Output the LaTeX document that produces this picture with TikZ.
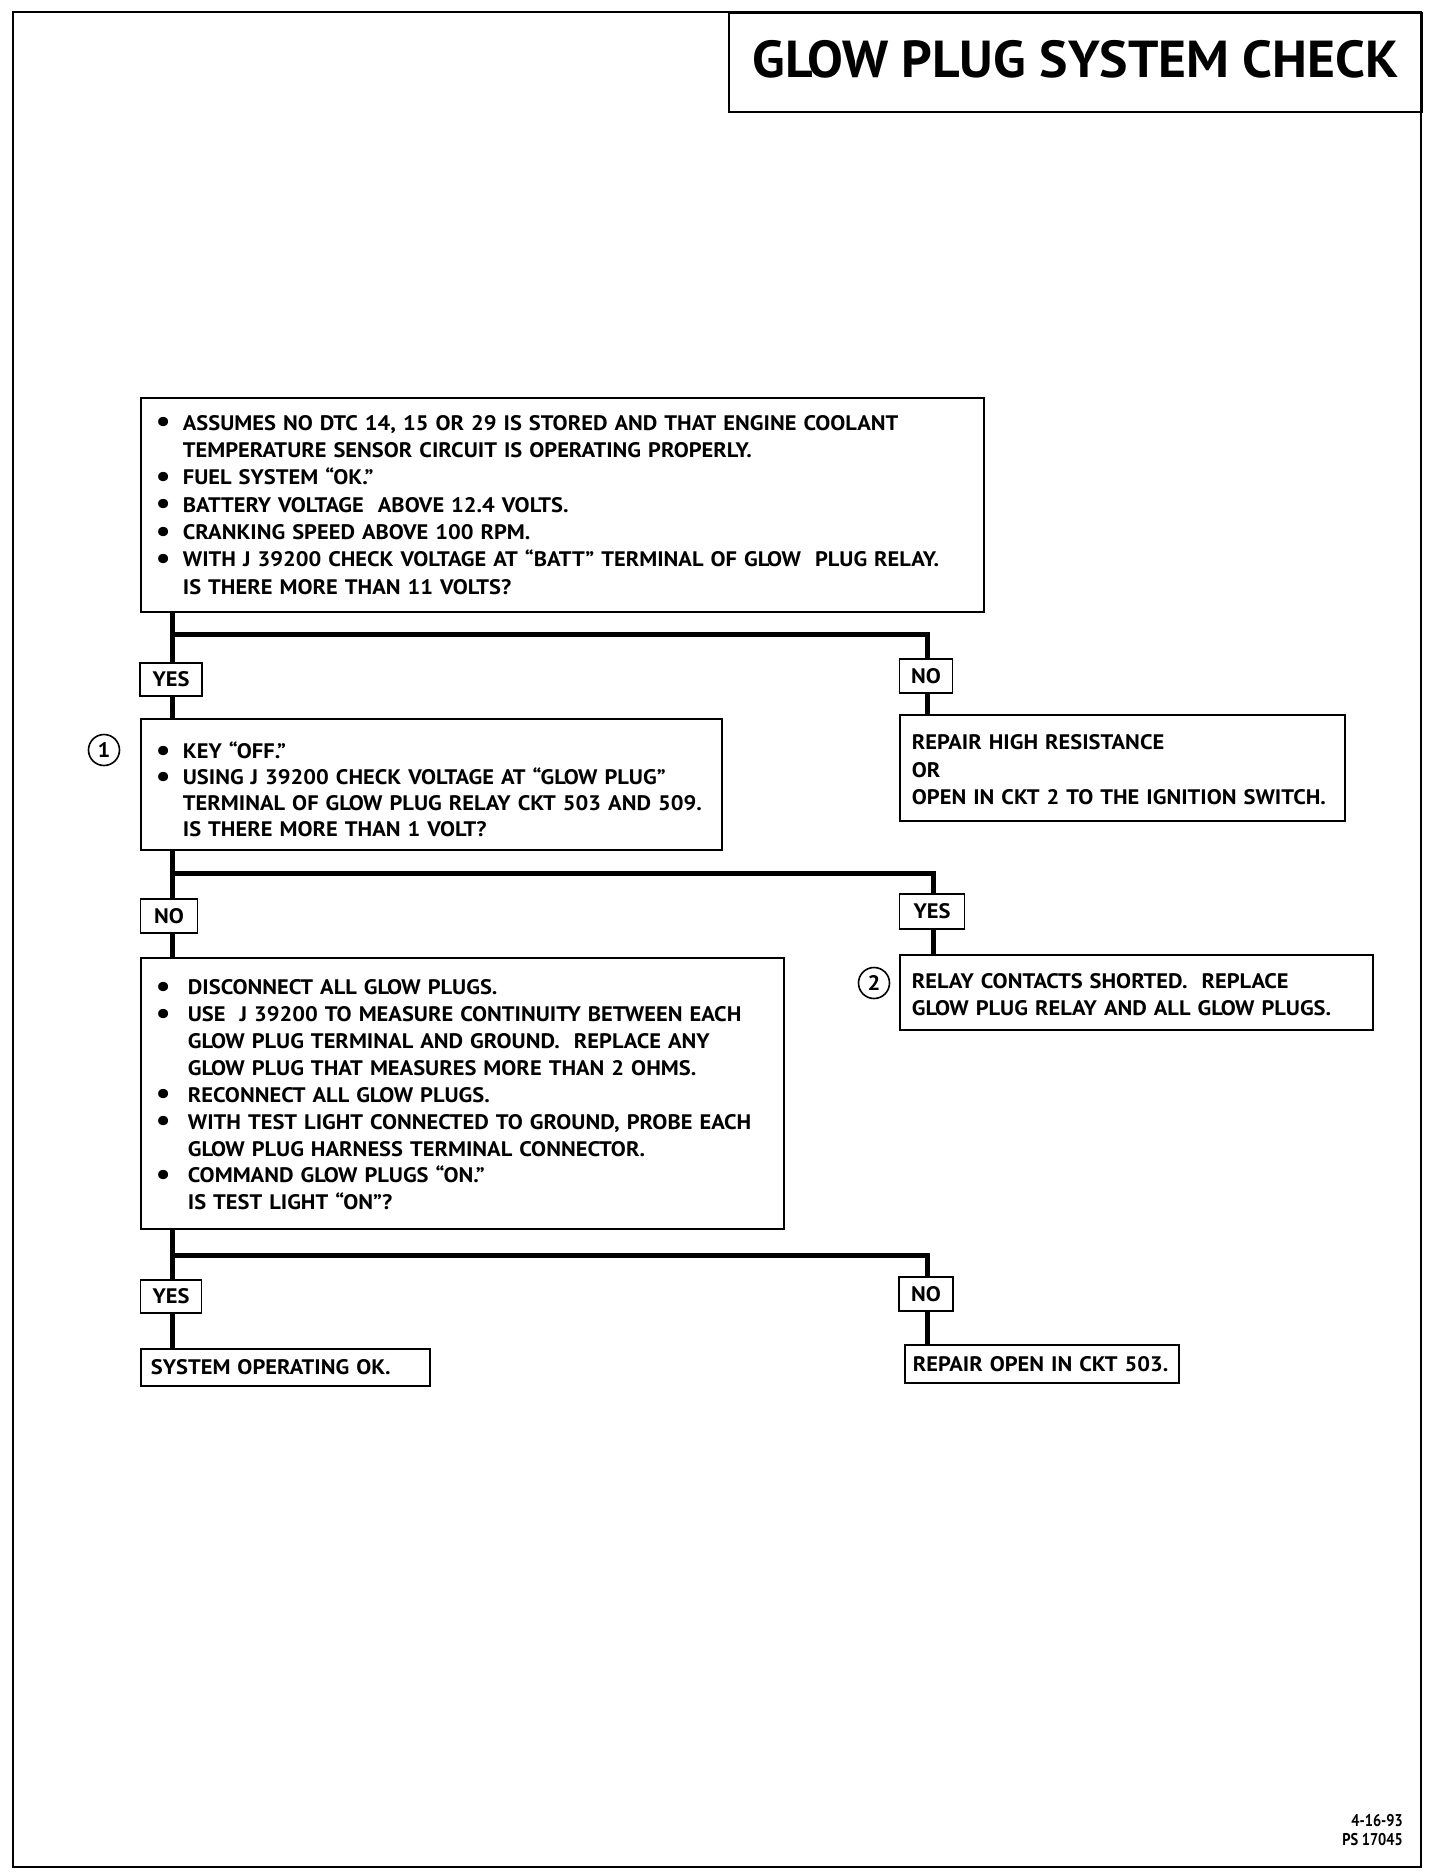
\documentclass[tikz,border=0pt]{standalone}
\usepackage{fontspec}
\usepackage{graphicx}
\setmainfont{PT Sans}
\newfontfamily\bodyfont{PT Sans}[FakeStretch=1.07]
\newfontfamily\titlefont{PT Sans}[FakeStretch=1.03]
\newfontfamily\footfont{PT Sans}[FakeStretch=0.85]
\newcommand\bul[1][27pt]{\makebox[#1][l]{\raisebox{-1.5pt}{\scalebox{1.45}{\textbullet}}}}
\newcommand\ind[1][27pt]{\hspace*{#1}}
\newcommand\tstrut[1]{\rule{0pt}{#1}}
\begin{document}
\begin{tikzpicture}[x=1pt,y=-1pt,
  body/.style={font=\bodyfont\bfseries\fontsize{21}{27.3}\selectfont},
  box/.style={draw, line width=1.8pt, anchor=north west, inner xsep=15pt, inner ysep=0pt, align=left, body},
  lab/.style={draw, line width=1.8pt, fill=white, inner sep=0pt, body},
  conn/.style={line width=5pt},
  num/.style={draw, circle, line width=1.6pt, minimum size=31pt, inner sep=0pt, body}]
\useasboundingbox (0,0) rectangle (1440,1876);
\fill[white] (0,0) rectangle (1440,1876);
\draw[line width=2.5pt] (13,12) rectangle (1421,1867);
\node[draw, line width=2.2pt, anchor=north west, minimum width=693pt, minimum height=99pt, inner sep=0pt,
  font=\titlefont\bfseries\fontsize{52}{60}\selectfont] (title) at (728,12) {\raisebox{8pt}{GLOW PLUG SYSTEM CHECK}};

\node[box, minimum width=843pt, minimum height=214pt, text width=813pt] (A) at (140,397) {%
\bul ASSUMES NO DTC 14, 15 OR 29 IS STORED AND THAT ENGINE COOLANT\\
\ind TEMPERATURE SENSOR CIRCUIT IS OPERATING PROPERLY.\\
\bul FUEL SYSTEM “OK.”\\
\bul BATTERY VOLTAGE\ \ ABOVE 12.4 VOLTS.\\
\bul CRANKING SPEED ABOVE 100 RPM.\\
\bul WITH J 39200 CHECK VOLTAGE AT “BATT” TERMINAL OF GLOW\ \ PLUG RELAY.\\
\ind IS THERE MORE THAN 11 VOLTS?};

\node[box, minimum width=581pt, minimum height=131pt, text width=551pt,
  font=\bodyfont\bfseries\fontsize{21}{26}\selectfont] (B) at (140,718) {%
\tstrut{27pt}\bul KEY “OFF.”\\
\bul USING J 39200 CHECK VOLTAGE AT “GLOW PLUG”\\
\ind TERMINAL OF GLOW PLUG RELAY CKT 503 AND 509.\\
\ind IS THERE MORE THAN 1 VOLT?};

\node[box, minimum width=445pt, minimum height=106pt, text width=421pt, inner xsep=12pt] (R1) at (899,714) {%
\tstrut{19pt}REPAIR HIGH RESISTANCE\\
OR\\
OPEN IN CKT 2 TO THE IGNITION SWITCH.};

\node[box, minimum width=643pt, minimum height=271pt, text width=613pt, inner xsep=15pt,
  font=\bodyfont\bfseries\fontsize{21}{26.9}\selectfont] (C) at (140,957) {%
\tstrut{18pt}\bul[32pt]DISCONNECT ALL GLOW PLUGS.\\
\bul[32pt]USE\ \ J 39200 TO MEASURE CONTINUITY BETWEEN EACH\\
\ind[32pt]GLOW PLUG TERMINAL AND GROUND.\ \ REPLACE ANY\\
\ind[32pt]GLOW PLUG THAT MEASURES MORE THAN 2 OHMS.\\
\bul[32pt]RECONNECT ALL GLOW PLUGS.\\
\bul[32pt]WITH TEST LIGHT CONNECTED TO GROUND, PROBE EACH\\
\ind[32pt]GLOW PLUG HARNESS TERMINAL CONNECTOR.\\
\bul[32pt]COMMAND GLOW PLUGS “ON.”\\
\ind[32pt]IS TEST LIGHT “ON”?};

\node[box, minimum width=473pt, minimum height=75pt, text width=449pt, inner xsep=12pt] (R2) at (899,954) {%
\tstrut{20pt}RELAY CONTACTS SHORTED.\ \ REPLACE\\
GLOW PLUG RELAY AND ALL GLOW PLUGS.};

\node[box, minimum width=289pt, minimum height=37pt, text width=269pt, inner xsep=10pt] (S) at (140,1348) {\mbox{SYSTEM OPERATING OK.}};
\node[box, minimum width=274pt, minimum height=38pt, text width=258pt, inner xsep=8pt] (R3) at (904,1344) {\mbox{REPAIR OPEN IN CKT 503.}};

\node[num] (n1) at (104,750) {1};
\node[num] (n2) at (874,983) {2};

\coordinate (j1) at (172,634);
\coordinate (k1) at (927,634);
\coordinate (j2) at (172,873);
\coordinate (k2) at (933,873);
\coordinate (j3) at (172,1255);
\coordinate (k3) at (927,1255);

\draw[conn] (j1 |- A.south) -- (j1 |- B.north);
\draw[conn] (j1) -- (k1) -- (k1 |- R1.north);
\draw[conn] (j2 |- B.south) -- (j2 |- C.north);
\draw[conn] (j2) -- (k2) -- (k2 |- R2.north);
\draw[conn] (j3 |- C.south) -- (j3 |- S.north);
\draw[conn] (j3) -- (k3) -- (k3 |- R3.north);

\node[lab, minimum width=62pt, minimum height=33pt] (y1) at (171,679.5) {YES};
\node[lab, minimum width=53pt, minimum height=34pt] (no1) at (926,676) {NO};
\node[lab, minimum width=57pt, minimum height=34pt] (no2) at (169,916) {NO};
\node[lab, minimum width=65pt, minimum height=35pt] (y2) at (932,911.5) {YES};
\node[lab, minimum width=61pt, minimum height=33pt] (y3) at (171,1296.5) {YES};
\node[lab, minimum width=54pt, minimum height=34pt] (no3) at (926,1294) {NO};

\node[anchor=north east, align=right, inner sep=0pt, font=\footfont\bfseries\fontsize{17}{19}\selectfont] (foot) at (1403,1814) {4-16-93\\PS 17045};
\end{tikzpicture}
\end{document}
